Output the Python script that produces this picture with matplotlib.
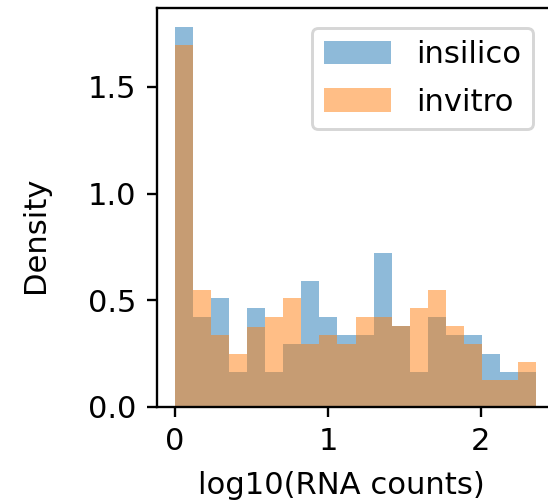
import numpy as np
import matplotlib
matplotlib.use("Agg")
import matplotlib.pyplot as plt

# Histogram bins over log10(RNA counts)
bin_edges = np.linspace(0.0, 2.36, 21)

# Density per bin for each source
insilico = [1.781, 0.423, 0.509, 0.164, 0.465, 0.164, 0.297, 0.590, 0.423, 0.336,
            0.336, 0.720, 0.379, 0.164, 0.423, 0.336, 0.336, 0.250, 0.164, 0.164]
invitro = [1.698, 0.548, 0.336, 0.250, 0.376, 0.423, 0.509, 0.297, 0.336, 0.297,
           0.423, 0.423, 0.379, 0.465, 0.548, 0.379, 0.297, 0.125, 0.125, 0.211]

series = {"insilico": insilico, "invitro": invitro}

plt.rcParams["font.size"] = 10.5

dpi = 210
W, H = 548, 503
fig = plt.figure(figsize=(W / dpi, H / dpi), dpi=dpi)
ax = fig.add_axes([0.2865, 0.1909, 0.7245, 0.7932])

centers = 0.5 * (bin_edges[:-1] + bin_edges[1:])
for name, dens in series.items():
    ax.hist(centers, bins=bin_edges, weights=dens, alpha=0.5, label=name)

ax.set_yticks([0.0, 0.5, 1.0, 1.5])
ax.set_xticks([0, 1, 2])
ax.set_xlabel("log10(RNA counts)")
ax.set_ylabel("Density")
ax.xaxis.set_label_coords(0.4635, -0.16)
ax.yaxis.set_label_coords(-0.27, 0.431)
ax.legend(loc="upper right", bbox_to_anchor=(533 / W, 1 - 28 / H),
          bbox_transform=fig.transFigure, borderaxespad=0.0,
          handlelength=2.2, handleheight=0.8, labelspacing=0.6)

fig.savefig("out.png", dpi=dpi)
